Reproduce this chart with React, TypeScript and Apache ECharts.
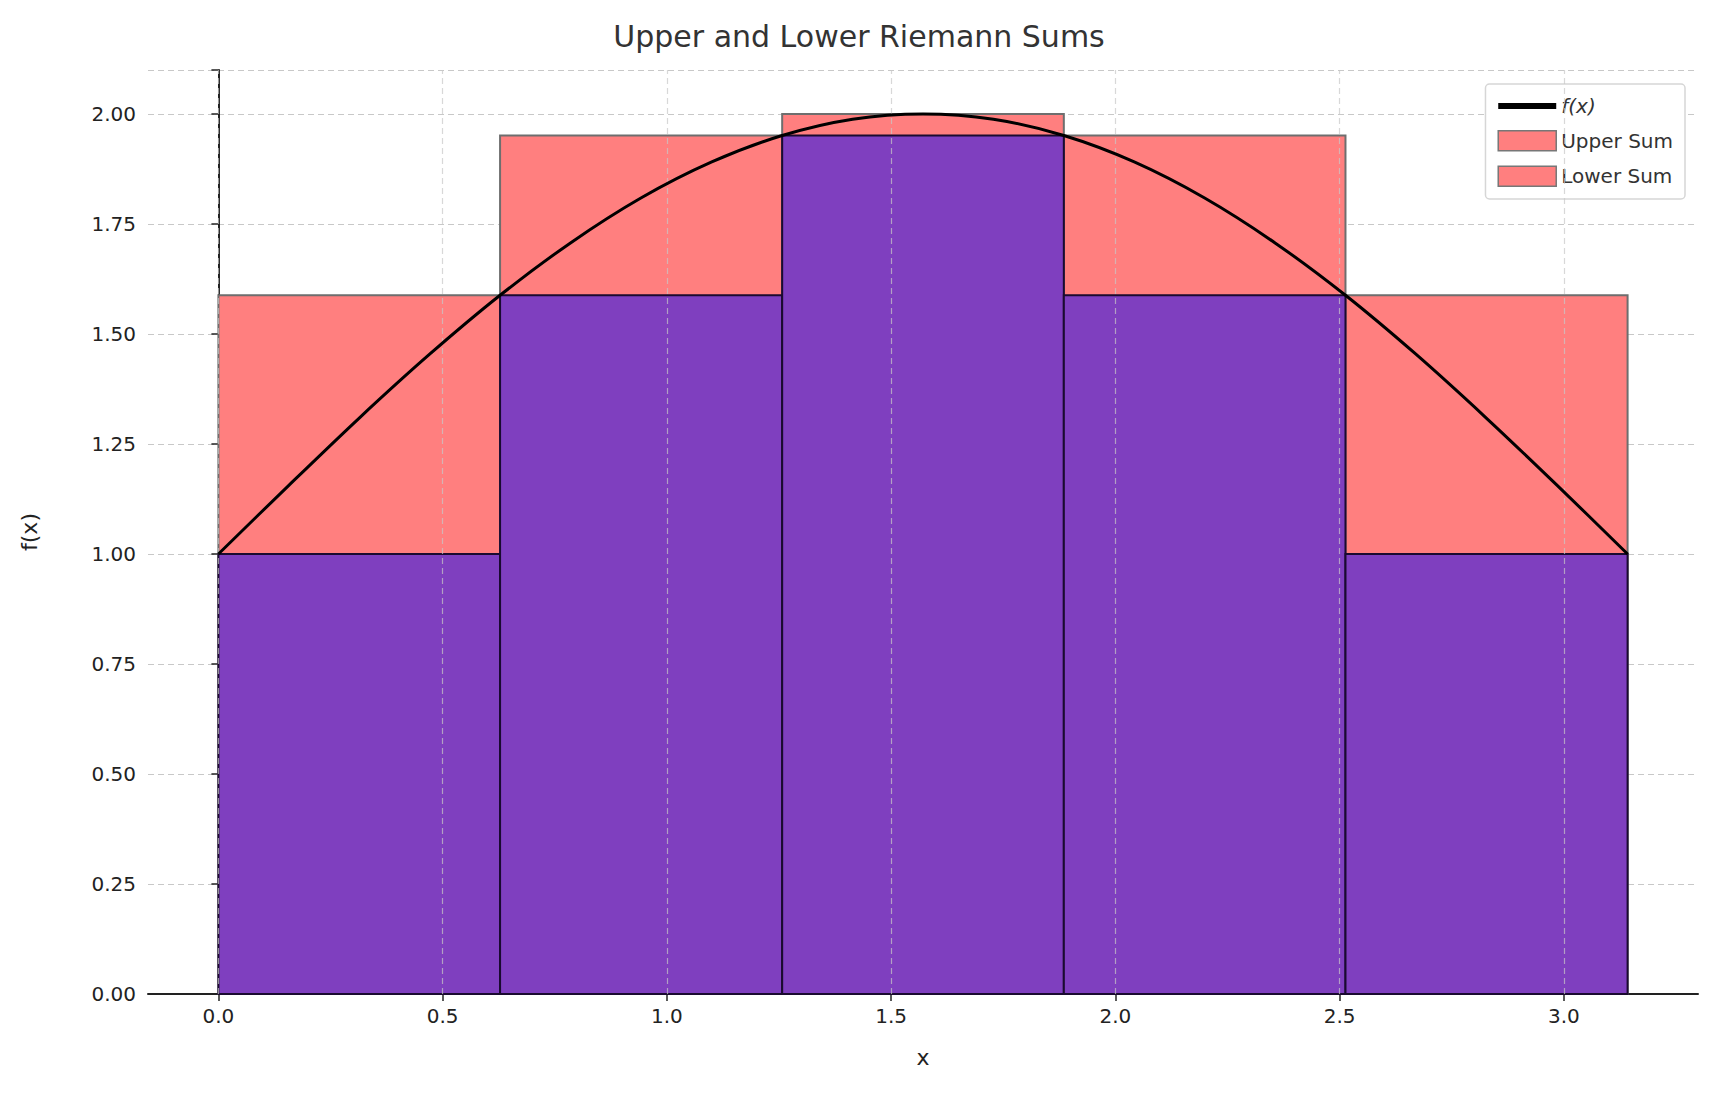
import { useEffect, useRef } from "react";
import * as echarts from "echarts";

// partition edges (n = 5 on [0, π])
const edges = [0, 0.628, 1.257, 1.885, 2.513, 3.142];
const upperHeights = [1.588, 1.951, 2.0, 1.951, 1.588];
const lowerHeights = [1.0, 1.588, 1.951, 1.588, 1.0];

// f(x)
const curveX = [0, 0.157, 0.314, 0.471, 0.628, 0.785, 0.942, 1.1, 1.257, 1.414, 1.571, 1.728, 1.885, 2.042, 2.199, 2.356, 2.513, 2.67, 2.827, 2.985, 3.142];
const curveY = [1.0, 1.156, 1.309, 1.454, 1.588, 1.707, 1.809, 1.891, 1.951, 1.988, 2.0, 1.988, 1.951, 1.891, 1.809, 1.707, 1.588, 1.454, 1.309, 1.156, 1.0];

const xTicks = [0, 0.5, 1.0, 1.5, 2.0, 2.5, 3.0];
const yTicks = [0, 0.25, 0.5, 0.75, 1.0, 1.25, 1.5, 1.75, 2.0];

const font = "DejaVu Sans";

function rects(heights: number[]) {
  return heights.map((h, i) => [edges[i], edges[i + 1], h]);
}

function rectRenderer(fill: string, stroke: string) {
  return (_params: any, api: any) => {
    const a = api.coord([api.value(0), api.value(2)]);
    const b = api.coord([api.value(1), 0]);
    return {
      type: "rect",
      shape: { x: a[0], y: a[1], width: b[0] - a[0], height: b[1] - a[1] },
      style: { fill, stroke, lineWidth: 2 },
    };
  };
}

export default function App() {
  const ref = useRef<HTMLDivElement>(null);

  useEffect(() => {
    if (!ref.current) return;
    const chart = echarts.init(ref.current, null, { renderer: "svg" });
    const gridDash = { color: "#c8c8c8", type: [6, 4] as any, width: 1.2 };

    chart.setOption({
      animation: false,
      backgroundColor: "#fff",
      title: {
        text: "Upper and Lower Riemann Sums",
        left: "center",
        top: 16,
        textStyle: { fontFamily: font, fontSize: 30, fontWeight: "normal", color: "#333" },
      },
      grid: { left: 148, right: 20, top: 70, bottom: 107 },
      legend: {
        orient: "vertical",
        right: 33,
        top: 84,
        padding: [12, 12, 12, 12],
        itemGap: 14,
        itemWidth: 58,
        itemHeight: 20,
        backgroundColor: "#fff",
        borderColor: "#d6d6d6",
        borderWidth: 1.5,
        borderRadius: 4,
        textStyle: { fontFamily: font, fontSize: 20, color: "#333" },
        data: [
          { name: "f(x)", icon: "path://M0,0H10V1H0Z", itemStyle: { color: "#000" }, textStyle: { fontStyle: "italic" } },
          { name: "Upper Sum", icon: "rect", itemStyle: { color: "#ff7f7f", borderColor: "#777", borderWidth: 1.5 } },
          { name: "Lower Sum", icon: "rect", itemStyle: { color: "#ff7f7f", borderColor: "#777", borderWidth: 1.5 } },
        ],
      },
      xAxis: {
        type: "value",
        min: -0.157,
        max: 3.299,
        name: "x",
        nameLocation: "middle",
        nameGap: 52,
        nameTextStyle: { fontFamily: font, fontSize: 22, color: "#222" },
        axisLine: { onZero: false, lineStyle: { color: "#222", width: 2 } },
        axisTick: { customValues: xTicks, length: 7, lineStyle: { color: "#222", width: 1.5 } },
        axisLabel: { customValues: xTicks, formatter: (v: number) => v.toFixed(1), fontFamily: font, fontSize: 20, color: "#222", margin: 12 },
        splitLine: { show: false },
      },
      yAxis: {
        type: "value",
        min: 0,
        max: 2.1,
        interval: 0.25,
        name: "f(x)",
        nameLocation: "middle",
        nameGap: 108,
        nameTextStyle: { fontFamily: font, fontSize: 22, color: "#222" },
        axisLine: { show: true, lineStyle: { color: "#222", width: 2 } },
        axisTick: { show: true, length: 7, lineStyle: { color: "#222", width: 1.5 } },
        axisLabel: { formatter: (v: number) => (yTicks.includes(v) ? v.toFixed(2) : ""), fontFamily: font, fontSize: 20, color: "#222", margin: 12 },
        splitLine: { lineStyle: gridDash },
      },
      series: [
        {
          name: "Upper Sum",
          type: "custom",
          renderItem: rectRenderer("#ff7f7f", "#6e6e6e"),
          data: rects(upperHeights),
          encode: { x: [0, 1], y: 2 },
          z: 2,
        },
        {
          name: "Lower Sum",
          type: "custom",
          renderItem: rectRenderer("#7f3fbf", "#1a0a30"),
          data: rects(lowerHeights),
          encode: { x: [0, 1], y: 2 },
          z: 3,
        },
        {
          name: "grid-x",
          type: "line",
          data: [],
          z: 4,
          markLine: {
            silent: true,
            symbol: "none",
            label: { show: false },
            lineStyle: { ...gridDash, color: "rgba(200,200,200,0.7)" },
            data: xTicks.map((v) => ({ xAxis: v })),
          },
        },
        {
          name: "f(x)",
          type: "line",
          data: curveX.map((x, i) => [x, curveY[i]]),
          smooth: 0.3,
          showSymbol: false,
          lineStyle: { color: "#000", width: 3 },
          itemStyle: { color: "#000" },
          z: 5,
        },
      ],
    });
    return () => chart.dispose();
  }, []);

  return <div ref={ref} style={{ position: "absolute", left: 0, top: 0, width: 1718, height: 1101 }} />;
}
